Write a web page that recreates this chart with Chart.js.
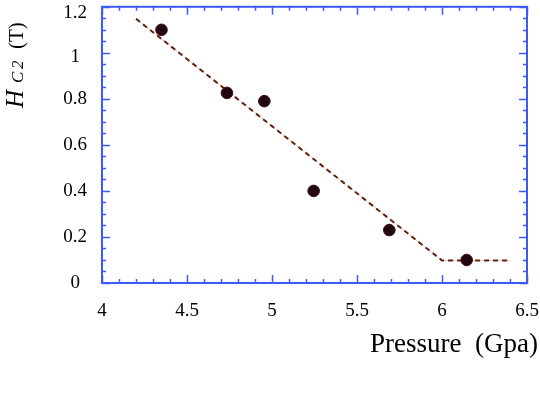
<!DOCTYPE html>
<html>
<head>
<meta charset="utf-8">
<script src="https://cdn.jsdelivr.net/npm/chart.js@4/dist/chart.umd.min.js"></script>
<style>
  html, body { margin: 0; padding: 0; background: #ffffff; }
  #wrap { width: 540px; height: 397px; position: relative; }
</style>
</head>
<body>
<div id="wrap"><canvas id="c" width="540" height="397"></canvas></div>
<script>
// ---- data ----
const pressure = [4.35, 4.735, 4.955, 5.245, 5.69, 6.145];
const hc2 = [1.10, 0.826, 0.79, 0.40, 0.23, 0.10];
const fitPressure = [4.2, 6.0, 6.4];
const fitHc2 = [1.148, 0.098, 0.098];
const xTickValues = [4, 4.5, 5, 5.5, 6, 6.5];
const yTickValues = [0, 0.2, 0.4, 0.6, 0.8, 1, 1.2];
const xTitle = 'Pressure\u00A0\u00A0(Gpa)';

const AXIS_BLUE = '#3c5afa';
const SERIF = '"Liberation Serif", "DejaVu Serif", serif';

const pts = pressure.map((x, i) => ({ x, y: hc2[i] }));
const fit = fitPressure.map((x, i) => ({ x, y: fitHc2[i] }));

const framePlugin = {
  id: 'frameTicks',
  afterDraw(chart) {
    const { ctx, chartArea: a, scales: { x, y } } = chart;
    ctx.save();
    ctx.strokeStyle = AXIS_BLUE;
    ctx.lineWidth = 1.5;
    const xMinorStep = 0.1, yMinorStep = 0.05;
    for (let k = 0; k <= Math.round((x.max - x.min) / xMinorStep); k++) {
      const v = x.min + k * xMinorStep;
      const major = Math.abs((v / 0.5) - Math.round(v / 0.5)) < 1e-6;
      const len = major ? 8 : 4;
      const px = Math.round(x.getPixelForValue(v)) + 0.5;
      ctx.beginPath();
      ctx.moveTo(px, a.bottom); ctx.lineTo(px, a.bottom - len);
      ctx.moveTo(px, a.top); ctx.lineTo(px, a.top + len);
      ctx.stroke();
    }
    for (let k = 0; k <= Math.round((y.max - y.min) / yMinorStep); k++) {
      const v = y.min + k * yMinorStep;
      const major = Math.abs((v / 0.2) - Math.round(v / 0.2)) < 1e-6;
      const len = major ? 8 : 4;
      const py = Math.round(y.getPixelForValue(v)) + 0.5;
      ctx.beginPath();
      ctx.moveTo(a.left, py); ctx.lineTo(a.left + len, py);
      ctx.moveTo(a.right, py); ctx.lineTo(a.right - len, py);
      ctx.stroke();
    }
    ctx.lineWidth = 2;
    ctx.strokeRect(a.left, a.top, a.right - a.left, a.bottom - a.top);

    ctx.fillStyle = '#000';
    ctx.font = '27px ' + SERIF;
    ctx.textAlign = 'right';
    ctx.textBaseline = 'alphabetic';
    ctx.fillText(xTitle, 538, 352);

    // y axis title: H_C2 (T), rotated
    ctx.translate(23, 108);
    ctx.rotate(-Math.PI / 2);
    ctx.textAlign = 'left';
    ctx.font = 'italic 25px ' + SERIF;
    ctx.fillText('H', 0, 0);
    ctx.font = 'italic 17px ' + SERIF;
    ctx.fillText('C', 25, 0);
    ctx.fillText('2', 39, 0);
    ctx.font = '21px ' + SERIF;
    ctx.fillText('(T)', 59, 0);
    ctx.restore();
  }
};

new Chart(document.getElementById('c'), {
  type: 'scatter',
  data: {
    datasets: [
      {
        type: 'line',
        data: fit,
        borderColor: '#e6cbc3',
        borderWidth: 1,
        pointRadius: 0,
        fill: false,
        order: 3
      },
      {
        type: 'line',
        data: fit,
        borderColor: '#62200e',
        borderWidth: 2,
        borderDash: [5, 4],
        pointRadius: 0,
        fill: false,
        order: 2
      },
      {
        data: pts,
        pointRadius: 5.8,
        pointHoverRadius: 5.8,
        backgroundColor: '#200712',
        borderColor: '#3d0a12',
        borderWidth: 1,
        order: 1
      }
    ]
  },
  options: {
    responsive: false,
    animation: false,
    events: [],
    layout: { padding: { top: 6, right: 13, left: 0, bottom: 0 } },
    plugins: { legend: { display: false }, tooltip: { enabled: false } },
    scales: {
      x: {
        type: 'linear',
        min: 4, max: 6.5,
        afterFit(s) { s.height = 114; s.paddingLeft = 0; s.paddingRight = 0; },
        afterBuildTicks(s) { s.ticks = xTickValues.map(v => ({ value: v })); },
        grid: { display: false, drawTicks: false },
        border: { display: false },
        ticks: {
          padding: 17,
          color: '#000',
          font: { family: SERIF, size: 19 },
          maxRotation: 0,
          autoSkip: false,
          callback: (v) => String(v)
        }
      },
      y: {
        type: 'linear',
        min: 0, max: 1.2,
        afterFit(s) { s.width = 102; s.paddingTop = 0; s.paddingBottom = 0; },
        afterBuildTicks(s) { s.ticks = yTickValues.map(v => ({ value: v })); },
        grid: { display: false, drawTicks: false },
        border: { display: false },
        ticks: {
          padding: 15,
          crossAlign: 'center',
          color: '#000',
          font: (c) => ({
            family: SERIF,
            size: 19,
            lineHeight: (c.tick && c.tick.value === 1.2) ? '12px' : ((c.tick && c.tick.value === 1) ? '8px' : 1.2)
          }),
          autoSkip: false,
          callback: (v) => (v === 1.2 || v === 1) ? ['', String(v)] : String(v)
        }
      }
    }
  },
  plugins: [framePlugin]
});
</script>
</body>
</html>
